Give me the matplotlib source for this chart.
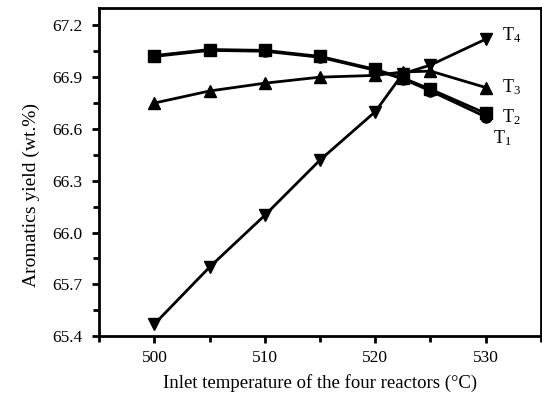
import matplotlib
matplotlib.use('Agg')
import matplotlib.pyplot as plt
from matplotlib.ticker import MultipleLocator, FormatStrFormatter

plt.rcParams['font.family'] = ['Liberation Serif', 'DejaVu Serif']
plt.rcParams['mathtext.fontset'] = 'custom'
plt.rcParams['mathtext.rm'] = 'Liberation Serif'
plt.rcParams['mathtext.default'] = 'regular'

# Inlet temperature (C) and aromatics yield (wt.%)
temps = [500, 505, 510, 515, 520, 522.5, 525, 530]
t1 = [67.02, 67.055, 67.05, 67.015, 66.94, 66.89, 66.82, 66.67]
t2 = [67.025, 67.06, 67.055, 67.02, 66.945, 66.895, 66.83, 66.69]
t3 = [66.75, 66.82, 66.865, 66.90, 66.91, 66.93, 66.935, 66.84]
t4 = [65.47, 65.80, 66.10, 66.42, 66.70, 66.92, 66.97, 67.12]

# draw order: T4 first, T1 last (on top)
series = [
    (t4, 'v'),
    (t3, '^'),
    (t2, 's'),
    (t1, 'o'),
]

fig = plt.figure(figsize=(5.42, 4.04), dpi=100)
ax = fig.add_axes([0.183, 0.168, 0.815, 0.812])

for vals, mk in series:
    ax.plot(temps, vals, color='black', linewidth=2, marker=mk, markersize=8,
            markerfacecolor='black', markeredgecolor='black')

# curve labels
ax.text(531.5, 67.142, 'T$_4$', fontsize=13, va='center')
ax.text(531.5, 66.84, 'T$_3$', fontsize=13, va='center')
ax.text(531.5, 66.668, 'T$_2$', fontsize=13, va='center')
ax.text(530.7, 66.547, 'T$_1$', fontsize=13, va='center')

ax.set_xlim(495, 535)
ax.set_ylim(65.4, 67.3)
ax.xaxis.set_major_locator(MultipleLocator(10))
ax.xaxis.set_minor_locator(MultipleLocator(5))
ax.yaxis.set_major_locator(MultipleLocator(0.3))
ax.yaxis.set_minor_locator(MultipleLocator(0.15))
ax.yaxis.set_major_formatter(FormatStrFormatter('%.1f'))

ax.tick_params(which='major', direction='out', length=5, width=2, labelsize=12.5, pad=7)
ax.tick_params(axis='x', which='major', pad=5)
ax.tick_params(which='minor', direction='out', length=4, width=2)
for s in ax.spines.values():
    s.set_linewidth(2)

ax.set_xlabel('Inlet temperature of the four reactors (\u00b0C)', fontsize=13.5, labelpad=6)
ax.set_ylabel('Aromatics yield (wt.%)', fontsize=14)
ax.yaxis.set_label_coords(-0.135, 0.43)

fig.savefig('out.png', dpi=100)
